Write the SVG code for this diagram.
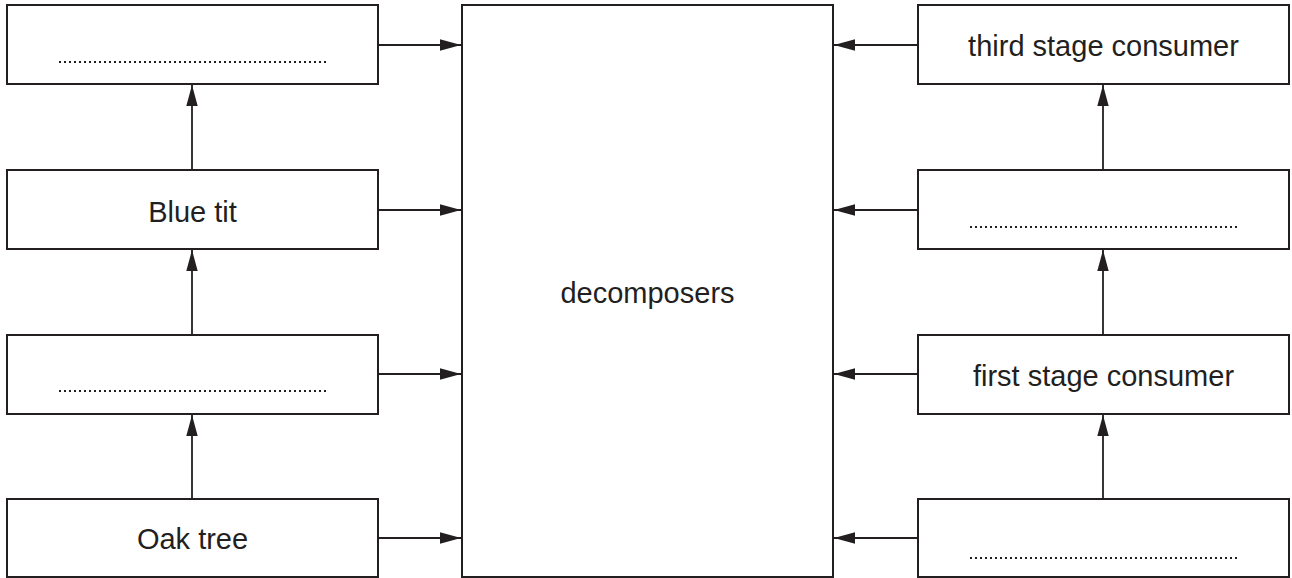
<svg xmlns="http://www.w3.org/2000/svg" width="1292" height="578" viewBox="0 0 1292 578">
<style>
.box{fill:#fff;stroke:#231f20;stroke-width:2}
.lbl{font-family:"Liberation Sans",Arial,sans-serif;font-size:29px;fill:#231f20;text-anchor:middle}
.dots{stroke:#231f20;stroke-width:2;stroke-dasharray:2 3;fill:none}
.conn{stroke:#231f20;stroke-width:1.8;fill:none}
</style>
<defs>
<marker id="ah" markerUnits="userSpaceOnUse" markerWidth="21" markerHeight="12" refX="21" refY="6" orient="auto">
<path d="M0,0.3 L21,6 L0,11.7 Z" fill="#231f20"/>
</marker>
</defs>
<g id="connectors">
<line class="conn" x1="378" y1="45" x2="461" y2="45" marker-end="url(#ah)"/>
<line class="conn" x1="378" y1="210" x2="461" y2="210" marker-end="url(#ah)"/>
<line class="conn" x1="378" y1="374" x2="461" y2="374" marker-end="url(#ah)"/>
<line class="conn" x1="378" y1="538" x2="461" y2="538" marker-end="url(#ah)"/>
<line class="conn" x1="918" y1="45" x2="834" y2="45" marker-end="url(#ah)"/>
<line class="conn" x1="918" y1="210" x2="834" y2="210" marker-end="url(#ah)"/>
<line class="conn" x1="918" y1="374" x2="834" y2="374" marker-end="url(#ah)"/>
<line class="conn" x1="918" y1="538" x2="834" y2="538" marker-end="url(#ah)"/>
<line class="conn" x1="192" y1="170" x2="192" y2="85" marker-end="url(#ah)"/>
<line class="conn" x1="192" y1="335" x2="192" y2="250" marker-end="url(#ah)"/>
<line class="conn" x1="192" y1="499" x2="192" y2="415" marker-end="url(#ah)"/>
<line class="conn" x1="1103" y1="170" x2="1103" y2="85" marker-end="url(#ah)"/>
<line class="conn" x1="1103" y1="335" x2="1103" y2="250" marker-end="url(#ah)"/>
<line class="conn" x1="1103" y1="499" x2="1103" y2="415" marker-end="url(#ah)"/>
</g>
<g id="left1">
<rect class="box" x="7" y="5" width="371" height="79"/>
<line class="dots" x1="59" y1="62" x2="327" y2="62"/>
</g>
<g id="bluetit">
<rect class="box" x="7" y="170" width="371" height="79"/>
<text class="lbl" x="192.5" y="222">Blue tit</text>
</g>
<g id="left3">
<rect class="box" x="7" y="335" width="371" height="79"/>
<line class="dots" x1="59" y1="391" x2="327" y2="391"/>
</g>
<g id="oaktree">
<rect class="box" x="7" y="499" width="371" height="78"/>
<text class="lbl" x="192.5" y="549">Oak tree</text>
</g>
<g id="decomposers">
<rect class="box" x="462" y="5" width="371" height="572"/>
<text class="lbl" x="647.5" y="303">decomposers</text>
</g>
<g id="third">
<rect class="box" x="918" y="5" width="371" height="79"/>
<text class="lbl" x="1103.5" y="56">third stage consumer</text>
</g>
<g id="right2">
<rect class="box" x="918" y="170" width="371" height="79"/>
<line class="dots" x1="970" y1="227" x2="1237" y2="227"/>
</g>
<g id="first">
<rect class="box" x="918" y="335" width="371" height="79"/>
<text class="lbl" x="1103.5" y="386">first stage consumer</text>
</g>
<g id="right4">
<rect class="box" x="918" y="499" width="371" height="78"/>
<line class="dots" x1="970" y1="558" x2="1237" y2="558"/>
</g>
</svg>
